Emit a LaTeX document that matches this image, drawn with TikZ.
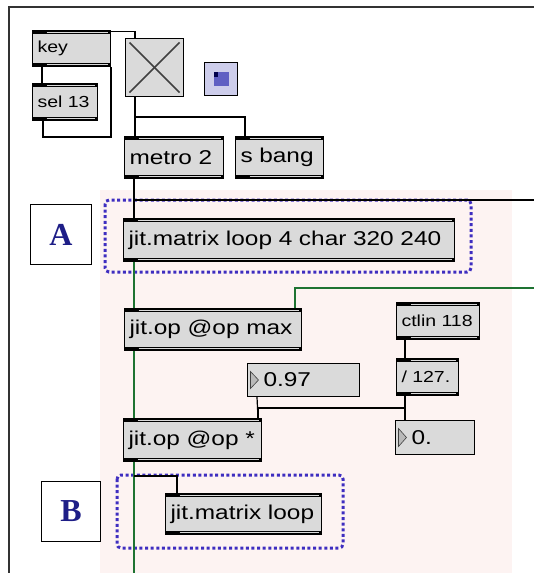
\documentclass[tikz,border=0pt]{standalone}
\usepackage{fontspec}
\usetikzlibrary{calc,backgrounds}
\newfontfamily\maxfont[FakeStretch=1.22]{Liberation Sans}
\newfontfamily\labfont{Liberation Serif}
\definecolor{objgray}{RGB}{218,218,218}
\definecolor{pinkbg}{RGB}{253,243,242}
\definecolor{dotblue}{RGB}{62,45,192}
\definecolor{cordgreen}{RGB}{30,115,50}
\definecolor{labelblue}{RGB}{30,30,135}
\definecolor{btnfill}{RGB}{205,205,235}
\definecolor{btninner}{RGB}{95,95,195}
\tikzset{
  bars/.style={path picture={
    \fill[black] (path picture bounding box.north west) rectangle ([yshift=-3.5pt]path picture bounding box.north east);
    \draw[gray!30, line width=0.9pt] ([xshift=14pt,yshift=-1.8pt]path picture bounding box.north west) -- ([xshift=-3pt,yshift=-1.8pt]path picture bounding box.north east);
    \fill[black] (path picture bounding box.south west) rectangle ([yshift=3.5pt]path picture bounding box.south east);
    \draw[gray!30, line width=0.9pt] ([xshift=14pt,yshift=1.8pt]path picture bounding box.south west) -- ([xshift=-3pt,yshift=1.8pt]path picture bounding box.south east);
  }},
  obj/.style={draw=black, line width=1pt, fill=objgray, inner xsep=4pt, inner ysep=0pt,
    align=left, anchor=north west, font=\maxfont\fontsize{20}{22}\selectfont, bars},
  smallobj/.style={obj, font=\maxfont\fontsize{16}{18}\selectfont},
  numbox/.style={draw=black, line width=1pt, fill=objgray, inner xsep=4pt, inner ysep=0pt,
    align=left, anchor=north west, font=\maxfont\fontsize{20}{22}\selectfont,
    path picture={
      \filldraw[fill=gray!55, draw=gray!50!black, line width=0.6pt]
        ([xshift=3pt,yshift=-8pt]path picture bounding box.north west) --
        ([xshift=3pt,yshift=8pt]path picture bounding box.south west) --
        ([xshift=11pt]path picture bounding box.west) -- cycle;
    }},
  labbox/.style={draw=black, line width=1pt, fill=white, anchor=north west, inner sep=0pt,
    text=labelblue, font=\labfont\bfseries\fontsize{32}{34}\selectfont},
  dotbox/.style={draw=dotblue, line width=3pt, dash pattern=on 3pt off 2.6pt, rounded corners=4pt},
  cord/.style={draw=black, line width=1.2pt},
  mcord/.style={draw=cordgreen, line width=1.6pt},
}
\begin{document}
\begin{tikzpicture}[x=1pt, y=-1pt]
\useasboundingbox (0,0) rectangle (534,573);
\fill[pinkbg] (100,190) rectangle (512,573);
\draw[black!80, line width=1.4pt] (534,7) -- (9,7) -- (9,573);

% objects
\node[smallobj, minimum width=78pt, minimum height=36pt, text width=68pt] (key) at (32,30) {key};
\node[smallobj, minimum width=65pt, minimum height=37pt, text width=55pt] (sel) at (32,83) {sel 13};
\node[draw=black, line width=1pt, fill=objgray, anchor=north west, inner sep=0pt,
      minimum width=58pt, minimum height=58pt,
      path picture={
        \draw[black!75, line width=1.6pt] ([xshift=4pt,yshift=-4pt]path picture bounding box.north west) -- ([xshift=-4pt,yshift=4pt]path picture bounding box.south east);
        \draw[black!75, line width=1.6pt] ([xshift=4pt,yshift=4pt]path picture bounding box.south west) -- ([xshift=-4pt,yshift=-4pt]path picture bounding box.north east);
      }] (tog) at (125,38) {};
\node[draw=black, line width=1pt, fill=btnfill, anchor=north west, inner sep=0pt,
      minimum width=33pt, minimum height=33pt,
      path picture={
        \fill[btninner] ([xshift=-7.5pt,yshift=7pt]path picture bounding box.center) rectangle ([xshift=7.5pt,yshift=-7pt]path picture bounding box.center);
        \fill[black!70!blue] ([xshift=-7.5pt,yshift=7pt]path picture bounding box.center) rectangle ([xshift=-3pt,yshift=2pt]path picture bounding box.center);
      }] (btn) at (204,62) {};
\node[obj, minimum width=99pt, minimum height=42pt, text width=89pt] (metro) at (124,136) {metro 2};
\node[obj, minimum width=88pt, minimum height=42pt, text width=78pt] (sbang) at (235,136) {s bang};
\node[obj, minimum width=331pt, minimum height=43pt, text width=321pt] (jm) at (123,218) {jit.matrix loop 4 char 320 240};
\node[obj, minimum width=177pt, minimum height=42pt, text width=167pt] (opmax) at (124,308) {jit.op @op max};
\node[numbox, minimum width=112pt, minimum height=33pt, text width=102pt] (n097) at (247,363) {\hspace*{11pt}0.97};
\node[smallobj, minimum width=83pt, minimum height=37pt, text width=73pt] (ctlin) at (396,302) {ctlin 118};
\node[smallobj, minimum width=62pt, minimum height=37pt, text width=52pt] (div) at (396,358) {/ 127.};
\node[numbox, minimum width=79pt, minimum height=34pt, text width=69pt] (n0) at (395,420) {\hspace*{11pt}0.};
\node[obj, minimum width=138pt, minimum height=43pt, text width=128pt] (opmul) at (123,418) {jit.op @op *};
\node[obj, minimum width=156pt, minimum height=41pt, text width=146pt] (jmloop) at (165,493) {jit.matrix loop};

% labels
\node[labbox, minimum width=61pt, minimum height=60pt] (labA) at (30,204) {A};
\node[labbox, minimum width=59pt, minimum height=60pt] (labB) at (41,481) {B};

% dotted highlight boxes
\draw[dotbox] (105,200) rectangle (471,272);
\draw[dotbox] (117,475) rectangle (343,548);

% connectors
\coordinate (rin) at (534,200);
\coordinate (gin) at (534,288);
\coordinate (bout) at (134,573);
\draw[cord] ($(key.south west)+(10,0)$) -- ($(sel.north west)+(10,0)$);
\draw[cord] ($(sel.south west)+(11,0)$) -- ++(0,16) -| (key.south east);
\draw[cord] ([yshift=-1.5pt]key.north east) -| ($(tog.north west)+(10,0)$);
\draw[cord] ($(tog.south west)+(10,0)$) -- ($(metro.north west)+(11,0)$);
\draw[cord] ($(tog.south west)+(10,20)$) -| ($(sbang.north west)+(10,0)$);
\draw[cord] ($(metro.south west)+(10,0)$) -- ($(jm.north west)+(11,0)$);
\draw[cord] (rin) -| ($(jm.north west)+(11,0)$);
\draw[mcord] ($(jm.south west)+(11,0)$) -- ($(opmax.north west)+(10,0)$);
\draw[mcord] (gin) -| ($(opmax.north east)+(-7,0)$);
\draw[mcord] ($(opmax.south west)+(10,0)$) -- ($(opmul.north west)+(11,0)$);
\draw[cord] ($(ctlin.south west)+(9,0)$) -- ($(div.north west)+(9,0)$);
\draw[cord] ($(div.south west)+(9,0)$) -- ($(n0.north west)+(10,0)$);
\draw[cord] ($(div.south west)+(9,12)$) -| ($(opmul.north east)+(-4,0)$);
\draw[cord] ($(n097.south west)+(10,0)$) -- ($(opmul.north east)+(-4,0)$);
\draw[mcord] ($(opmul.south west)+(11,0)$) -- (bout);
\draw[cord] ($(opmul.south west)+(11,14)$) -| ($(jmloop.north west)+(12,0)$);
\end{tikzpicture}
\end{document}
